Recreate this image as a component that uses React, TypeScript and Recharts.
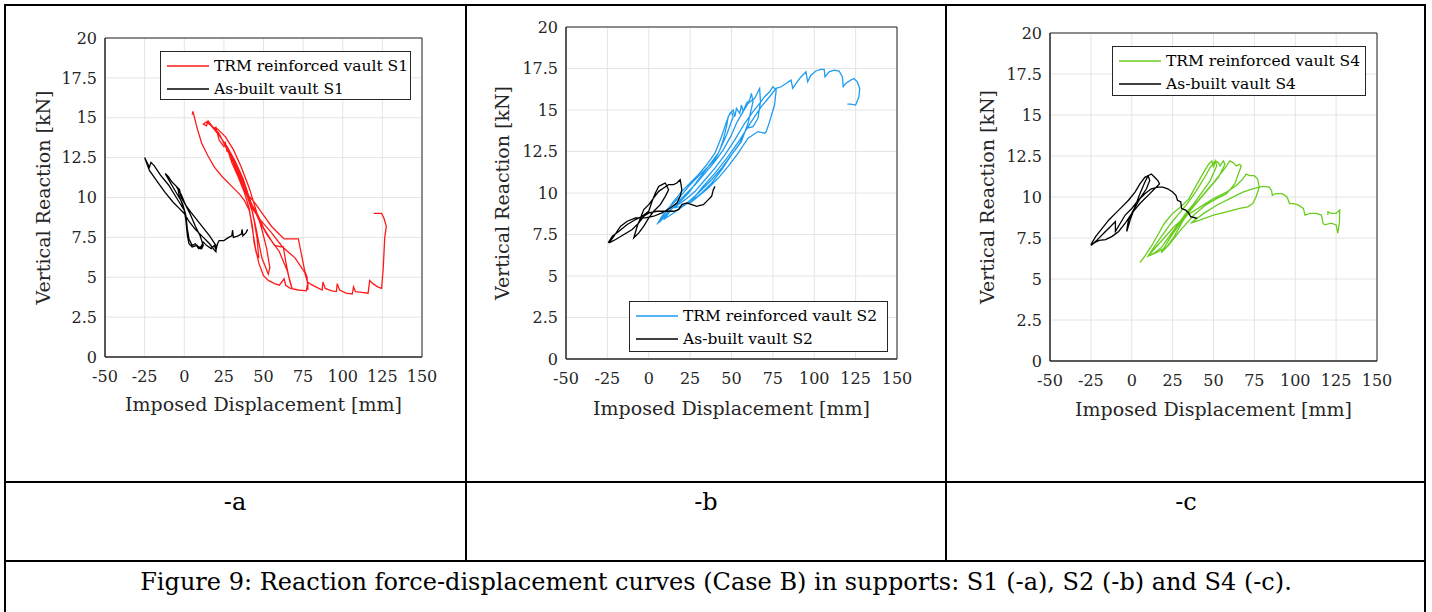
import React from 'react';
import { LineChart, Line, XAxis, YAxis, CartesianGrid, Legend, ReferenceArea } from 'recharts';

type Pt = [number, number];

const xTicks = [-50, -25, 0, 25, 50, 75, 100, 125, 150];
const yTicks = [0, 2.5, 5, 7.5, 10, 12.5, 15, 17.5, 20];
const panelLabels = ['-a', '-b', '-c'];
const caption = 'Figure 9: Reaction force-displacement curves (Case B) in supports: S1 (-a), S2 (-b) and S4 (-c).';

// support S1 - [displacement mm, reaction kN]
const s1Trm: Pt[] = [
  [5, 15.2], [5.5, 15.4], [8, 14.4], [11, 13.4], [15, 12.6], [19, 11.9], [24, 11.3], [30, 10.7], [35, 10.2], [38, 9.8], [41, 9.2], [43, 8.2], [44, 7.2], [45.5, 6.5], [47, 6.2],
  [46, 7.4], [44, 8.6], [41, 10], [37, 11.2], [32, 12.3], [27, 13.2], [22, 13.9], [17, 14.5], [14, 14.75], [12, 14.6],
  [14, 14.5], [15, 14.8], [17, 14.55], [19, 14.3], [20, 14.4], [22, 13.6], [25, 13.2], [26, 13.4], [27, 12.9], [29, 12.8], [31, 12.4], [34, 11.5], [37, 10.8], [40, 10], [43, 9.1], [45, 8.2], [47, 7.2], [49, 6.2], [51, 5.7], [53, 5.2], [54, 5.6],
  [52, 6.8], [49, 8], [45, 9.3], [41, 10.6], [36, 11.9], [31, 13], [26, 13.8], [21, 14.3], [19, 14.4],
  [22, 14.0], [25, 13.4], [28, 12.8], [31, 12.2], [35, 11.2], [39, 10.3], [43, 9.5], [47, 8.6], [52, 7.7], [57, 7.0], [61, 6.9], [62.5, 6.9], [64, 6.0], [66, 5.0], [67, 4.6], [68, 4.3],
  [65, 5.4], [60, 6.6], [55, 7.3], [50, 8.1], [46, 9.0], [43, 9.5], [40, 10.2], [36, 11.3], [32, 12.2], [28, 12.9], [25, 13.5],
  [30, 12.5], [35, 11.4], [40, 10.2], [45, 9.6], [50, 8.9], [55, 8.2], [60, 7.7], [63, 7.4], [67, 7.4], [72, 7.4], [74, 6.4], [76, 5.4], [77.5, 5.0], [78, 4.2],
  [78, 4.6], [76, 5.3], [70, 6.2], [62, 6.9], [55, 7.8], [48, 8.6], [43, 9.3], [38, 10.5], [33, 11.8], [28, 12.8],
  [30, 12.2], [34, 11.3], [38, 10.3], [41, 9.3], [43, 8.0], [45, 6.8], [47, 5.9], [50, 5.1], [53, 4.8], [57, 4.6], [60, 4.5], [63, 4.9], [64, 4.5], [67, 4.3], [72, 4.2], [77, 4.15],
  [78, 4.7], [80, 4.55], [83, 4.4], [87, 4.2], [87.5, 4.7], [89, 4.3], [93, 4.15], [96, 4.1], [96.5, 4.6], [98, 4.2], [102, 4.0], [106, 3.95], [106.8, 4.4], [108, 4.1], [112, 4.05], [116, 4.0],
  [117, 4.8], [119, 4.6], [122, 4.4], [124.5, 4.3], [125.5, 5.5], [126.5, 7.5], [127.5, 8.2], [126, 8.7], [124.5, 9.0], [122, 9.0], [119.5, 9.0],
];
const s1Built: Pt[] = [
  [0, 9.2], [-5, 10.0], [-10, 10.8], [-15, 11.4], [-19, 12.0], [-21, 12.2], [-22, 11.9], [-25, 12.5],
  [-22, 11.7], [-17, 11.0], [-12, 10.3], [-7, 9.7], [-3, 9.3], [0, 9.0], [3, 8.5], [7, 8.0], [12, 7.5], [16, 7.1], [19, 6.7], [20, 6.6],
  [20, 7.0], [16, 7.6], [12, 8.1], [8, 8.6], [4, 9.1], [1, 9.5], [-2, 10.0], [-3, 10.5], [-4, 10.6],
  [-3, 10.0], [-1, 9.6], [1, 8.9], [2, 8.0], [3, 7.4], [5, 7.0], [7, 7.1], [9, 6.8], [10, 6.9], [11, 6.8], [12, 7.0],
  [10, 7.6], [7, 8.2], [4, 8.9], [1, 9.5], [-2, 10.2], [-5, 10.7], [-8, 11.0], [-10, 11.3], [-12, 11.5],
  [-8, 10.8], [-5, 10.3], [-2, 9.8], [0, 9.2], [1, 8.6], [2, 7.6], [3, 7.1], [5, 6.9], [8, 7.0], [10, 6.8],
  [12, 7.2], [14, 7.0], [17, 6.8], [19, 7.0], [20, 6.7], [21, 7.1], [22, 7.3], [25, 7.3], [28, 7.5], [30, 7.6], [30.5, 7.95], [31, 7.5], [34, 7.6], [36, 7.7], [36.5, 8.0], [37, 7.6], [39, 7.8], [40, 8.0],
];

// support S2
const s2Trm: Pt[] = [
  [5, 8.1], [8, 8.6], [12, 9.1], [16, 9.5], [20, 9.9], [25, 10.5], [30, 11.0], [35, 11.5], [40, 12.0], [43, 12.6], [45, 13.2], [47, 14.0], [48, 14.6], [50, 14.9], [51, 14.6],
  [47, 13.5], [42, 12.4], [36, 11.6], [30, 10.8], [24, 10.0], [18, 9.4], [12, 8.9], [8, 8.4], [6, 8.2],
  [10, 8.8], [15, 9.5], [20, 10.1], [25, 10.6], [30, 11.1], [35, 11.7], [40, 12.4], [44, 13.4], [47, 14.3], [49, 14.8], [51, 15.0], [52, 14.6], [53, 15.1], [55, 14.8], [56, 15.3], [57, 14.9], [59, 15.4], [61, 15.6], [62, 16.0], [63, 15.5],
  [60, 14.2], [56, 13.1], [50, 12.3], [44, 11.5], [38, 10.8], [30, 10.0], [22, 9.3], [15, 8.8], [9, 8.4],
  [16, 9.3], [22, 9.9], [28, 10.5], [34, 11.2], [40, 11.9], [45, 12.6], [50, 13.5], [53, 14.2], [57, 14.9], [60, 15.4], [64, 15.7], [66, 16.1], [67, 16.3], [67.5, 15.5], [66, 14.5], [63, 14.0], [59, 13.9],
  [55, 13.0], [50, 12.3], [44, 11.4], [38, 10.6], [32, 10.0], [26, 9.5], [20, 9.2], [15, 9.1],
  [22, 9.6], [28, 10.1], [34, 10.8], [40, 11.5], [46, 12.3], [52, 13.2], [58, 14.2], [63, 14.9], [67, 15.4], [70, 15.8], [73, 16.1], [75, 16.4], [77, 16.2], [76, 15.3], [73, 14.3], [71, 13.7], [70, 13.6], [66, 13.7], [60, 13.3], [54, 12.4], [48, 11.6], [42, 10.9], [36, 10.3], [30, 9.8], [25, 9.4],
  [32, 10.3], [40, 11.2], [48, 12.2], [55, 13.2], [62, 14.3], [68, 15.2], [73, 15.8], [77, 16.3], [80, 16.4], [83, 16.6], [86, 16.8], [87, 16.3], [89, 16.6], [92, 17.0], [95, 17.3], [96, 16.7], [98, 17.1],
  [101, 17.35], [104, 17.45], [106, 17.45], [106.5, 17.0], [109, 17.3], [112, 17.4], [115, 17.35], [117, 17.0], [117.5, 16.4], [119, 16.6], [122, 16.8], [124, 16.9], [126, 16.7], [127.5, 16.3], [127, 15.8], [125, 15.3], [122, 15.35], [120, 15.35],
];
const s2Built: Pt[] = [
  [-24.5, 7.0], [-22, 7.4], [-18, 7.7], [-13, 8.1], [-8, 8.4], [-4, 8.6], [0, 8.9], [2, 9.5], [4, 10.0], [6, 10.4], [8, 10.5], [10, 10.6], [12, 10.2], [10, 9.8], [7, 9.3], [3, 8.9], [0, 8.5], [-3, 8.0], [-6, 7.6], [-9, 7.3],
  [-7, 8.0], [-5, 8.5], [-3, 9.0], [0, 9.3], [3, 9.7], [6, 10.1], [9, 10.3], [12, 10.5], [15, 10.5], [17, 10.6], [19, 10.8], [20, 10.2], [19, 9.8], [17, 9.4], [13, 9.1], [8, 8.8], [3, 8.6], [-2, 8.5], [-8, 8.5], [-13, 8.3], [-17, 8.0], [-21, 7.4], [-24, 7.0],
  [-20, 7.2], [-15, 7.5], [-10, 7.8], [-6, 8.2], [-3, 8.6], [0, 8.8], [5, 8.9], [10, 8.9], [15, 8.9], [18, 9.0], [20, 9.3], [23, 9.4], [26, 9.3], [29, 9.2], [31, 9.25], [33, 9.3], [36, 9.6], [38, 9.8], [39, 10.2], [40, 10.4],
];

// support S4
const s4Trm: Pt[] = [
  [5, 6.0], [8, 6.4], [12, 7.0], [16, 7.7], [20, 8.4], [25, 9.0], [30, 9.4], [35, 9.9], [40, 10.8], [44, 11.5], [47, 12.0], [49, 12.2], [50, 11.8], [51, 12.2], [52, 11.9],
  [48, 11.0], [43, 10.3], [38, 9.6], [33, 9.0], [28, 8.3], [23, 7.6], [18, 6.9], [14, 6.6], [10, 6.4],
  [14, 7.0], [19, 7.7], [24, 8.4], [29, 9.0], [34, 9.6], [39, 10.3], [44, 11.1], [48, 11.8], [51, 12.2], [53, 12.1], [54, 11.9], [56, 12.2], [57, 12.0],
  [53, 11.2], [47, 10.5], [41, 9.8], [36, 9.2], [31, 8.5], [26, 7.6], [21, 6.9], [18, 6.6],
  [24, 7.6], [29, 8.3], [34, 9.0], [39, 9.6], [45, 10.3], [51, 11.0], [55, 11.5], [58, 11.9], [60, 12.2], [62, 12.1], [64, 11.9], [66, 12.0], [67, 11.9],
  [63, 10.8], [58, 10.2], [52, 9.9], [45, 9.5], [38, 8.9], [30, 8.0], [22, 7.0], [15, 6.6], [10, 6.4],
  [18, 7.3], [26, 8.2], [34, 8.9], [42, 9.4], [50, 9.9], [58, 10.3], [64, 10.7], [68, 11.1], [70, 11.4], [72, 11.3], [75, 11.3], [77, 11.1], [78, 10.6], [76, 10.0], [74, 9.6], [71, 9.4], [66, 9.3], [58, 9.1], [50, 8.9], [42, 8.6], [36, 8.4],
  [44, 9.0], [52, 9.5], [60, 9.9], [68, 10.3], [74, 10.5], [78, 10.6], [81, 10.65], [84, 10.6], [85.5, 10.4], [86, 10.1], [88, 10.2], [92, 10.2], [95, 10.0], [96.5, 9.6], [99, 9.6], [102, 9.5], [105, 9.3], [106, 8.9],
  [109, 9.0], [113, 9.0], [116, 8.9], [117, 8.4], [118, 8.3], [122, 8.4], [125, 8.3], [126, 7.8], [127, 8.4], [127.2, 9.2], [125, 9.0], [122, 9.0], [120, 9.1], [120, 8.9],
];
const s4Built: Pt[] = [
  [-25, 7.1], [-22, 7.6], [-18, 8.1], [-14, 8.6], [-10, 9.0], [-6, 9.4], [-2, 9.8], [2, 10.3], [5, 10.8], [8, 11.2], [10, 11.3], [11, 11.0], [9, 10.5], [5, 9.9], [1, 9.2], [-2, 8.6], [-3, 8.0], [-3, 7.9],
  [-1, 8.6], [2, 9.4], [5, 10.2], [8, 10.9], [10, 11.3], [12, 11.4], [14, 11.2], [16, 11.0], [17, 10.8], [14, 10.5], [10, 10.1], [5, 9.6], [0, 9.0], [-4, 8.4], [-8, 7.9], [-12, 7.6], [-16, 7.4], [-20, 7.35], [-23, 7.2], [-25, 7.05],
  [-21, 7.4], [-17, 7.8], [-13, 8.2], [-10, 8.5], [-10, 7.9], [-7, 8.4], [-4, 8.9], [0, 9.3], [4, 9.8], [8, 10.2], [12, 10.5], [16, 10.6], [19, 10.6], [22, 10.5], [25, 10.3], [27, 10.1], [28, 9.8], [30, 9.7], [30.5, 9.3],
  [33, 9.2], [35, 9.0], [36, 8.8], [38, 8.75], [40, 8.7],
];

const toRows = (pts: Pt[]) => pts.map(([x, y]) => ({ x, y }));

const FONT = "'DejaVu Serif', serif";
const INK = '#262626';

// keep the reinforced curve first in the legend, like the original figure
const LegendBox = ({ payload }: any) => {
  const items = [...(payload || [])].sort((a: any, b: any) => (String(a.value).startsWith('TRM') ? -1 : 1) - (String(b.value).startsWith('TRM') ? -1 : 1));
  return (
    <div style={{ border: `1px solid ${INK}`, background: '#fff', boxSizing: 'border-box', width: '100%', height: '100%', padding: '2px 0 0 6px', fontFamily: FONT, fontSize: 15.5, color: '#000' }}>
      {items.map((p: any) => (
        <div key={p.value} style={{ display: 'flex', alignItems: 'center', height: 23 }}>
          <svg width={42} height={4} style={{ flex: 'none' }}>
            <line x1={0} y1={2} x2={42} y2={2} stroke={p.color} strokeWidth={1.5} />
          </svg>
          <span style={{ marginLeft: 5, whiteSpace: 'nowrap' }}>{p.value}</span>
        </div>
      ))}
    </div>
  );
};

type PanelProps = {
  left: number;
  width: number;
  margin: { top: number; right: number; bottom: number; left: number };
  trm: Pt[];
  built: Pt[];
  color: string;
  support: string;
  legendBox: { left: number; top: number; width: number; height: number };
  xTitleOffset: number;
  yTitleOffset: number;
};

const Panel = ({ left, width, margin, trm, built, color, support, legendBox, xTitleOffset, yTitleOffset }: PanelProps) => (
  <div style={{ position: 'absolute', left, top: 0 }}>
    <LineChart width={width} height={440} margin={margin} style={{ fontFamily: FONT }}>
      <CartesianGrid stroke="#e4e4e4" strokeWidth={1} />
      <XAxis
        type="number"
        dataKey="x"
        domain={[-50, 150]}
        ticks={xTicks}
        allowDataOverflow
        tickLine={false}
        tickSize={0}
        tickMargin={14}
        height={30}
        axisLine={{ stroke: INK }}
        tick={{ fill: INK, fontSize: 16, fontFamily: FONT }}
        label={{ value: 'Imposed Displacement [mm]', position: 'bottom', offset: xTitleOffset, fill: INK, fontSize: 19, fontFamily: FONT }}
      />
      <YAxis
        type="number"
        domain={[0, 20]}
        ticks={yTicks}
        allowDataOverflow
        tickLine={false}
        tickSize={0}
        tickMargin={8}
        width={60}
        axisLine={{ stroke: INK }}
        tick={{ fill: INK, fontSize: 16, fontFamily: FONT }}
        label={{ value: 'Vertical Reaction [kN]', angle: -90, position: 'insideLeft', offset: yTitleOffset, fill: INK, fontSize: 19, fontFamily: FONT, style: { textAnchor: 'middle' } }}
      />
      <ReferenceArea x1={-50} x2={150} y1={0} y2={20} fill="none" fillOpacity={0} stroke={INK} strokeWidth={1} />
      <Line data={toRows(trm)} dataKey="y" name={`TRM reinforced vault ${support}`} type="linear" stroke={color} strokeWidth={1.3} dot={false} activeDot={false} isAnimationActive={false} />
      <Line data={toRows(built)} dataKey="y" name={`As-built vault ${support}`} type="linear" stroke="#000" strokeWidth={1.3} dot={false} activeDot={false} isAnimationActive={false} />
      <Legend
        layout="vertical"
        align="center"
        verticalAlign="middle"
        content={<LegendBox />}
        wrapperStyle={{ left: legendBox.left, top: legendBox.top, width: legendBox.width, height: legendBox.height }}
      />
    </LineChart>
  </div>
);

const rule = (l: number, t: number, w: number, h: number) => (
  <div style={{ position: 'absolute', left: l, top: t, width: w, height: h, background: '#000' }} />
);

export default function App() {
  const cellCenters = [235, 706, 1186];
  return (
    <div style={{ position: 'relative', width: 1432, height: 612, background: '#fff', overflow: 'hidden', fontFamily: FONT }}>
      <style>{'body{margin:0}'}</style>
      <Panel
        left={0}
        width={466}
        margin={{ top: 38, right: 44, bottom: 53, left: 45 }}
        trm={s1Trm}
        built={s1Built}
        color="#ff1a1a"
        support="S1"
        legendBox={{ left: 160, top: 51, width: 251, height: 49 }}
        xTitleOffset={11}
        yTitleOffset={-2}
      />
      <Panel
        left={466}
        width={480}
        margin={{ top: 27, right: 49, bottom: 51, left: 40 }}
        trm={s2Trm}
        built={s2Built}
        color="#1f9cf0"
        support="S2"
        legendBox={{ left: 163, top: 301, width: 259, height: 51 }}
        xTitleOffset={13}
        yTitleOffset={-4}
      />
      <Panel
        left={946}
        width={480}
        margin={{ top: 33, right: 49, bottom: 49, left: 44 }}
        trm={s4Trm}
        built={s4Built}
        color="#6acd1e"
        support="S4"
        legendBox={{ left: 166, top: 46, width: 254, height: 50 }}
        xTitleOffset={12}
        yTitleOffset={-3}
      />

      {rule(4, 4, 1422, 2)}
      {rule(4, 4, 2, 608)}
      {rule(1424, 4, 2, 608)}
      {rule(465, 4, 2, 558)}
      {rule(945, 4, 2, 558)}
      {rule(4, 481, 1422, 2)}
      {rule(4, 560, 1422, 2)}

      {panelLabels.map((t, i) => (
        <div key={t} style={{ position: 'absolute', left: cellCenters[i] - 60, width: 120, top: 490, textAlign: 'center', fontSize: 24, lineHeight: '24px', color: '#000' }}>
          {t}
        </div>
      ))}
      <div style={{ position: 'absolute', left: 0, width: 1432, top: 570, textAlign: 'center', fontSize: 24, lineHeight: '24px', color: '#000', whiteSpace: 'nowrap' }}>
        {caption}
      </div>
    </div>
  );
}
